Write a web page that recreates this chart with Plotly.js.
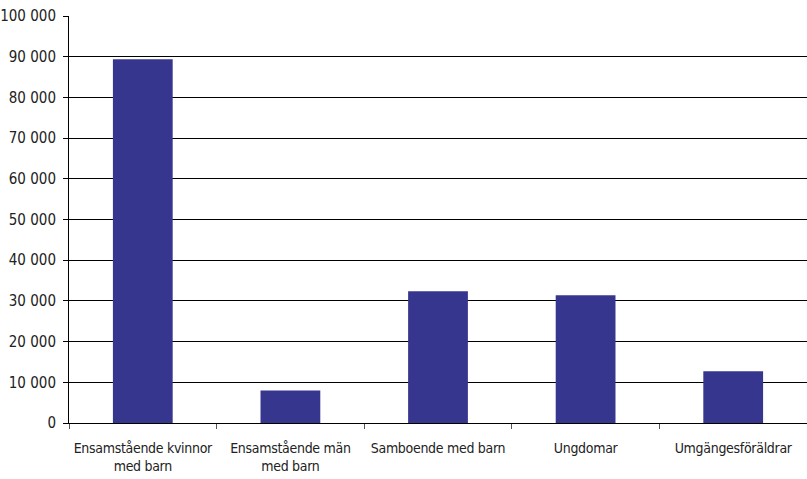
<!DOCTYPE html>
<html>
<head>
<meta charset="utf-8">
<script src="https://cdn.plot.ly/plotly-3.0.1.min.js"></script>
<style>
  html, body { margin: 0; padding: 0; background: #fff; }
  #chart { width: 807px; height: 479px; }
  /* narrow face for all axis labels */
  #chart svg text { font-stretch: condensed !important; }
  #chart .xtick text { letter-spacing: -0.3px; }
</style>
</head>
<body>
<div id="chart"></div>
<script>
// Hushållstyper och antal
const categories = [
  'Ensamstående kvinnor<br>med barn',
  'Ensamstående män<br>med barn',
  'Samboende med barn',
  'Ungdomar',
  'Umgängesföräldrar'
];
const values = [89400, 8000, 32400, 31400, 12700];
const yTicks = [0, 10000, 20000, 30000, 40000, 50000, 60000, 70000, 80000, 90000, 100000];

const font = "'DejaVu Sans Condensed', 'DejaVu Sans', sans-serif";

const trace = {
  type: 'bar',
  x: categories,
  y: values,
  marker: { color: '#36368f', line: { width: 0 } },
  hoverinfo: 'x+y'
};

const layout = {
  width: 807,
  height: 479,
  margin: { l: 69, r: 0, t: 16, b: 56, pad: 0 },
  paper_bgcolor: '#ffffff',
  plot_bgcolor: '#ffffff',
  separators: ', ',
  bargap: 0.595,
  showlegend: false,
  font: { family: font, size: 15, color: '#222222' },
  xaxis: {
    type: 'category',
    automargin: false,
    tickangle: 0,
    showline: true,
    linecolor: '#000000',
    linewidth: 1,
    ticks: 'outside',
    tickson: 'boundaries',
    ticklen: 5,
    tickcolor: '#555555',
    ticklabelstandoff: 12,
    showgrid: false,
    tickfont: { family: font, size: 14, color: '#222222' }
  },
  yaxis: {
    range: [0, 100000],
    tickvals: yTicks,
    tickformat: ',d',
    automargin: false,
    showline: true,
    linecolor: '#000000',
    linewidth: 1,
    ticks: 'outside',
    ticklen: 5,
    tickcolor: '#000000',
    ticklabelstandoff: 4,
    showgrid: true,
    gridcolor: '#000000',
    gridwidth: 1,
    zeroline: false,
    tickfont: { family: font, size: 15, color: '#222222' }
  }
};

Plotly.newPlot('chart', [trace], layout, { displayModeBar: false, staticPlot: true });
</script>
</body>
</html>
